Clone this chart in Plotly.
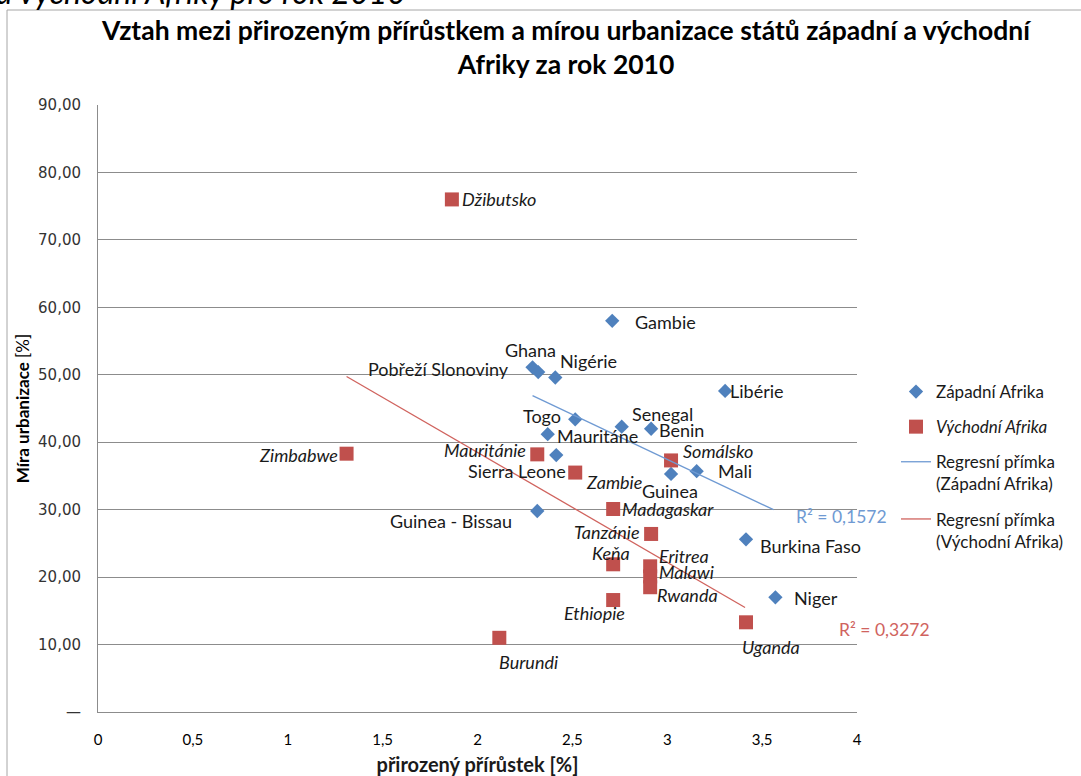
import plotly.graph_objects as go

# ---- data ----
west_names = ["Gambie", "Ghana", "Pobřeží Slonoviny", "Nigérie", "Libérie", "Togo", "Mauritáne",
              "Senegal", "Benin", "Sierra Leone", "Guinea", "Mali", "Guinea - Bissau",
              "Burkina Faso", "Niger"]
west_x = [2.71, 2.29, 2.32, 2.41, 3.305, 2.515, 2.37, 2.76, 2.915, 2.415, 3.02, 3.155, 2.315, 3.415, 3.57]
west_y = [58.0, 51.1, 50.4, 49.6, 47.6, 43.4, 41.2, 42.3, 42.0, 38.1, 35.3, 35.7, 29.8, 25.6, 17.0]

east_names = ["Džibutsko", "Zimbabwe", "Mauritánie", "Zambie", "Somálsko", "Madagaskar", "Tanzánie",
              "Keňa", "Eritrea", "Malawi", "Rwanda", "Ethiopie", "Uganda", "Burundi"]
east_x = [1.865, 1.31, 2.315, 2.515, 3.02, 2.715, 2.915, 2.715, 2.91, 2.91, 2.91, 2.715, 3.415, 2.115]
east_y = [76.0, 38.3, 38.2, 35.5, 37.3, 30.1, 26.4, 21.9, 21.6, 20.1, 18.5, 16.6, 13.3, 11.0]

west_trend_x = [2.29, 3.56]
west_trend_y = [46.9, 30.0]
east_trend_x = [1.31, 3.41]
east_trend_y = [49.75, 15.5]
west_r2 = "R² = 0,1572"
east_r2 = "R² = 0,3272"

y_tickvals = [0, 10, 20, 30, 40, 50, 60, 70, 80, 90]
y_ticktext = ["—", "10,00", "20,00", "30,00", "40,00", "50,00", "60,00", "70,00", "80,00", "90,00"]
x_tickvals = [0, 0.5, 1, 1.5, 2, 2.5, 3, 3.5, 4]
x_ticktext = ["0", "0,5", "1", "1,5", "2", "2,5", "3", "3,5", "4"]

title_text = "Vztah mezi přirozeným přírůstkem a mírou urbanizace států západní a východní<br>Afriky za rok 2010"
caption_text = "a východní Afriky pro rok 2010"
x_title = "přirozený přírůstek [%]"
y_title = "<b>Míra urbanizace</b> [%]"

# ---- label placement (anchor, xshift px, yshift px) ----
west_label_pos = {
    "Gambie": ("left", 21, -1), "Ghana": ("center", -2, 17), "Pobřeží Slonoviny": ("right", -27, 3),
    "Nigérie": ("left", 3, 16), "Libérie": ("left", 3, 0), "Togo": ("right", -12, 3),
    "Mauritáne": ("left", 7, -2), "Senegal": ("left", 8, 13), "Benin": ("left", 6, -1),
    "Sierra Leone": ("right", 12, -16), "Guinea": ("center", -1, -17), "Mali": ("left", 19, 0),
    "Guinea - Bissau": ("right", -23, -10), "Burkina Faso": ("left", 12, -7), "Niger": ("left", 17, -1),
}
east_label_pos = {
    "Džibutsko": ("left", 8, 0), "Zimbabwe": ("right", -7, -1), "Mauritánie": ("right", -9, 4),
    "Zambie": ("left", 9, -9), "Somálsko": ("left", 10, 9), "Madagaskar": ("left", 7, 0),
    "Tanzánie": ("right", -9, 2), "Keňa": ("center", -2, 11), "Eritrea": ("left", 7, 10),
    "Malawi": ("left", 7, 4), "Rwanda": ("left", 5, -8), "Ethiopie": ("center", -19, -13),
    "Uganda": ("center", 25, -25), "Burundi": ("center", 29, -24),
}

BLUE = "#4F81BD"
RED = "#C0504D"
GRID = "#8C8C8C"
W, H = 1081, 776
L, R, T, B = 98, 857, 105, 712

fig = go.Figure()
fig.add_trace(go.Scatter(x=west_x, y=west_y, mode="markers", name="Západní Afrika",
                         marker=dict(symbol="diamond", size=11, color=BLUE),
                         legendgroup="a", hovertext=west_names))
fig.add_trace(go.Scatter(x=east_x, y=east_y, mode="markers", name="<i>Východní Afrika</i>",
                         marker=dict(symbol="square", size=14, color=RED),
                         legendgroup="b", hovertext=east_names))
fig.add_trace(go.Scatter(x=west_trend_x, y=west_trend_y, mode="lines",
                         name="Regresní přímka<br>(Západní Afrika)",
                         line=dict(color="#6F9AD3", width=1.3), legendgroup="c"))
fig.add_trace(go.Scatter(x=east_trend_x, y=east_trend_y, mode="lines",
                         name="Regresní přímka<br>(Východní Afrika)",
                         line=dict(color="#D0635E", width=1.3), legendgroup="d"))

annotations = []
label_font = dict(family="Lato", size=18, color="#1a1a1a")
for n, x, y in zip(west_names, west_x, west_y):
    a, dx, dy = west_label_pos[n]
    annotations.append(dict(x=x, y=y, xref="x", yref="y", text=n, showarrow=False,
                            xanchor=a, yanchor="middle", xshift=dx, yshift=dy, font=label_font))
for n, x, y in zip(east_names, east_x, east_y):
    a, dx, dy = east_label_pos[n]
    annotations.append(dict(x=x, y=y, xref="x", yref="y", text="<i>" + n + "</i>", showarrow=False,
                            xanchor=a, yanchor="middle", xshift=dx, yshift=dy, font=label_font))

def px(xp):
    return (xp - L) / (R - L)

def py(yp):
    return (B - yp) / (B - T)

annotations.append(dict(x=px(841), y=py(516), xref="paper", yref="paper", text=west_r2,
                        showarrow=False, xanchor="center", yanchor="middle",
                        font=dict(family="Lato", size=17.5, color="#6F9AD3")))
annotations.append(dict(x=px(884), y=py(629), xref="paper", yref="paper", text=east_r2,
                        showarrow=False, xanchor="center", yanchor="middle",
                        font=dict(family="Lato", size=17.5, color="#D0635E")))
annotations.append(dict(x=px(-6), y=py(13), xref="paper", yref="paper", text="<i>" + caption_text + "</i>",
                        showarrow=False, xanchor="left", yanchor="bottom",
                        font=dict(family="Lato", size=32, color="#000000")))

fig.update_layout(
    width=W, height=H,
    margin=dict(l=L, r=W - R, t=T, b=H - B),
    paper_bgcolor="white", plot_bgcolor="white",
    title=dict(text="<b>" + title_text + "</b>", x=566 / W, xanchor="center",
               y=1 - 40 / H, yanchor="middle",
               font=dict(family="Lato", size=26.5, color="#000000")),
    showlegend=True,
    legend=dict(xref="container", yref="container", x=896 / W, y=1 - 374 / H,
                xanchor="left", yanchor="top",
                font=dict(family="Lato", size=17, color="#1a1a1a"),
                tracegroupgap=10, valign="top", bgcolor="rgba(0,0,0,0)"),
    annotations=annotations,
    shapes=[dict(type="rect", xref="paper", yref="paper", x0=px(7), x1=px(1100),
                 y0=py(800), y1=py(10), line=dict(color="#A6A6A6", width=1))],
)
fig.update_xaxes(range=[0, 4], tickvals=x_tickvals, ticktext=x_ticktext, showgrid=False,
                 zeroline=False, showline=True, linecolor=GRID, linewidth=1, ticks="",
                 automargin=False, ticklabelstandoff=14,
                 tickfont=dict(family="Lato", size=15, color="#000000"),
                 title=dict(text="<b>" + x_title + "</b>", standoff=14,
                            font=dict(family="Lato", size=20, color="#1a1a1a")))
fig.update_yaxes(range=[0, 90], tickvals=y_tickvals, ticktext=y_ticktext, showgrid=True,
                 gridcolor=GRID, gridwidth=1, zeroline=False, showline=True, linecolor=GRID,
                 linewidth=1, ticks="", automargin=False, ticklabelstandoff=13,
                 tickfont=dict(family="DejaVu Sans", size=15, color="#333333"),
                 title=dict(text=y_title, standoff=4,
                            font=dict(family="Lato", size=17, color="#000000")))

fig.write_html("out.html", config={"displayModeBar": False},
               post_script="document.body.style.margin='0px';")
